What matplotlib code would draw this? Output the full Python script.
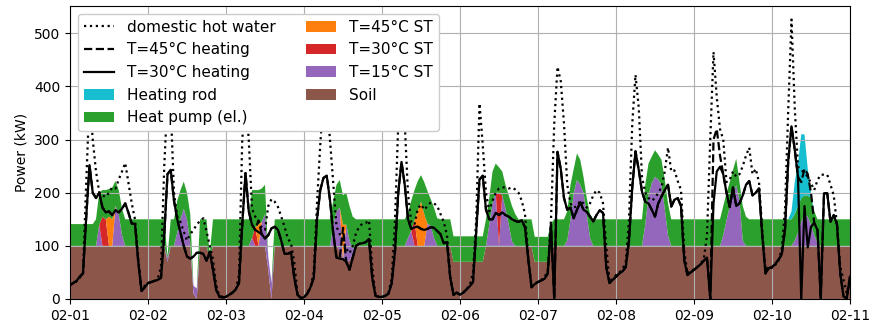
import matplotlib
matplotlib.use("Agg")
import matplotlib.pyplot as plt
import matplotlib.dates as mdates
import pandas as pd

# Hourly values, 2021-02-01 00:00 .. 2021-02-11 00:00 (241 points), in kW
soil = [
    100, 100, 100, 100, 100, 100, 100, 100, 100, 100, 100, 100, 100, 100, 100, 100, 100, 100, 100, 100, 100, 100, 100, 100,
    100, 100, 100, 100, 100, 100, 70, 100, 100, 100, 100, 100, 100, 100, 10, 0, 100, 100, 100, 78, 100, 100, 100, 100,
    100, 100, 100, 100, 100, 100, 100, 100, 100, 100, 100, 100, 100, 55, 0, 100, 100, 100, 100, 100, 100, 100, 100, 100,
    100, 100, 100, 100, 100, 100, 100, 100, 100, 100, 100, 90, 75, 70, 72, 85, 100, 100, 100, 100, 100, 100, 100, 100,
    100, 100, 100, 100, 100, 100, 100, 100, 100, 100, 100, 100, 100, 100, 100, 100, 100, 100, 100, 100, 100, 100, 70, 70,
    70, 70, 70, 70, 70, 70, 70, 70, 100, 100, 100, 100, 100, 100, 100, 100, 100, 100, 100, 100, 100, 100, 100, 70,
    70, 70, 70, 70, 100, 100, 100, 100, 100, 100, 100, 100, 100, 100, 100, 100, 100, 100, 100, 100, 100, 100, 100, 100,
    100, 100, 100, 100, 100, 100, 100, 100, 100, 100, 100, 100, 100, 100, 100, 100, 100, 100, 100, 100, 100, 100, 100, 100,
    100, 100, 100, 100, 100, 100, 100, 100, 100, 100, 100, 100, 100, 100, 100, 100, 100, 100, 100, 100, 100, 100, 100, 100,
    100, 100, 100, 100, 100, 100, 100, 100, 100, 100, 100, 100, 100, 100, 100, 100, 100, 100, 100, 100, 100, 100, 100, 100,
    100]

st15 = [
    0, 0, 0, 0, 0, 0, 0, 0, 0, 40, 0, 0, 0, 0, 75, 60, 20, 0, 0, 0, 0, 0, 0, 0,
    0, 0, 0, 0, 0, 0, 8, 0, 0, 25, 50, 70, 50, 5, 15, 20, 0, 0, 0, 0, 0, 0, 0, 0,
    0, 0, 0, 0, 0, 0, 0, 0, 15, 0, 0, 45, 60, 25, 30, 0, 0, 0, 0, 0, 0, 0, 0, 0,
    0, 0, 0, 0, 0, 0, 0, 0, 0, 40, 65, 82, 0, 70, 38, 10, 0, 0, 0, 0, 0, 0, 0, 0,
    0, 0, 0, 0, 0, 0, 0, 0, 15, 29, 0, 0, 0, 0, 42, 38, 15, 0, 0, 0, 0, 0, 0, 0,
    0, 0, 0, 0, 0, 0, 0, 0, 0, 40, 80, 100, 0, 95, 70, 40, 8, 0, 0, 0, 0, 0, 0, 0,
    0, 0, 0, 0, 0, 0, 0, 0, 0, 10, 50, 100, 124, 115, 100, 60, 15, 0, 0, 0, 0, 0, 0, 0,
    0, 0, 0, 0, 0, 0, 0, 0, 0, 40, 95, 118, 130, 125, 115, 70, 20, 0, 0, 0, 0, 0, 0, 0,
    0, 0, 0, 0, 0, 0, 0, 0, 0, 20, 48, 75, 100, 114, 86, 10, 0, 0, 0, 0, 0, 0, 0, 0,
    0, 0, 0, 0, 0, 0, 0, 10, 25, 45, 60, 55, 40, 20, 5, 0, 0, 0, 0, 0, 0, 0, 0, 0,
    0]

st30 = [
    0, 0, 0, 0, 0, 0, 0, 0, 0, 0, 55, 50, 0, 0, 0, 0, 0, 0, 0, 0, 0, 0, 0, 0,
    0, 0, 0, 0, 0, 0, 0, 0, 0, 0, 0, 0, 0, 0, 0, 0, 0, 0, 0, 0, 0, 0, 0, 0,
    0, 0, 0, 0, 0, 0, 0, 0, 0, 35, 0, 0, 0, 0, 0, 0, 0, 0, 0, 0, 0, 0, 0, 0,
    0, 0, 0, 0, 0, 0, 0, 0, 0, 0, 0, 0, 0, 0, 0, 0, 0, 0, 0, 0, 0, 0, 0, 0,
    0, 0, 0, 0, 0, 0, 0, 0, 0, 0, 48, 0, 0, 0, 0, 0, 0, 0, 0, 0, 0, 0, 0, 0,
    0, 0, 0, 0, 0, 0, 0, 0, 0, 0, 0, 0, 100, 0, 0, 0, 0, 0, 0, 0, 0, 0, 0, 0,
    0, 0, 0, 0, 0, 0, 0, 0, 0, 0, 0, 0, 0, 0, 0, 0, 0, 0, 0, 0, 0, 0, 0, 0,
    0, 0, 0, 0, 0, 0, 0, 0, 0, 0, 0, 0, 0, 0, 0, 0, 0, 0, 0, 0, 0, 0, 0, 0,
    0, 0, 0, 0, 0, 0, 0, 0, 0, 0, 0, 0, 0, 0, 0, 0, 0, 0, 0, 0, 0, 0, 0, 0,
    0, 0, 0, 0, 0, 0, 0, 0, 0, 0, 0, 0, 0, 0, 0, 0, 0, 0, 0, 0, 0, 0, 0, 0,
    0]

st45 = [
    0, 0, 0, 0, 0, 0, 0, 0, 0, 0, 0, 0, 55, 50, 0, 0, 0, 0, 0, 0, 0, 0, 0, 0,
    0, 0, 0, 0, 0, 0, 0, 0, 0, 0, 0, 0, 0, 0, 0, 0, 0, 0, 0, 0, 0, 0, 0, 0,
    0, 0, 0, 0, 0, 0, 0, 0, 0, 0, 40, 0, 0, 0, 0, 0, 0, 0, 0, 0, 0, 0, 0, 0,
    0, 0, 0, 0, 0, 0, 0, 0, 0, 0, 0, 0, 65, 0, 0, 0, 0, 0, 0, 0, 0, 0, 0, 0,
    0, 0, 0, 0, 0, 0, 0, 0, 0, 0, 0, 65, 83, 60, 0, 0, 0, 0, 0, 0, 0, 0, 0, 0,
    0, 0, 0, 0, 0, 0, 0, 0, 0, 0, 0, 0, 0, 0, 0, 0, 0, 0, 0, 0, 0, 0, 0, 0,
    0, 0, 0, 0, 0, 0, 0, 0, 0, 0, 0, 0, 0, 0, 0, 0, 0, 0, 0, 0, 0, 0, 0, 0,
    0, 0, 0, 0, 0, 0, 0, 0, 0, 0, 0, 0, 0, 0, 0, 0, 0, 0, 0, 0, 0, 0, 0, 0,
    0, 0, 0, 0, 0, 0, 0, 0, 0, 0, 0, 0, 0, 0, 0, 0, 0, 0, 0, 0, 0, 0, 0, 0,
    0, 0, 0, 0, 0, 0, 0, 0, 0, 0, 0, 0, 0, 0, 0, 0, 0, 0, 0, 0, 0, 0, 0, 0,
    0]

heat_pump = [
    41, 41, 41, 41, 41, 41, 41, 41, 50, 60, 50, 55, 52, 60, 47, 45, 50, 50, 50, 50, 50, 50, 50, 50,
    50, 50, 50, 50, 50, 50, 2, 50, 50, 60, 55, 51, 50, 55, 0, 0, 50, 50, 50, 7, 50, 50, 50, 50,
    50, 50, 50, 50, 50, 50, 50, 50, 90, 70, 65, 63, 55, 0, 0, 50, 50, 50, 50, 50, 50, 50, 50, 50,
    50, 50, 50, 50, 50, 50, 50, 50, 50, 45, 50, 52, 55, 60, 65, 60, 50, 50, 50, 50, 50, 50, 50, 50,
    50, 50, 50, 50, 50, 50, 50, 50, 47, 56, 57, 57, 50, 60, 61, 50, 57, 52, 50, 50, 50, 50, 48, 48,
    48, 48, 48, 48, 48, 48, 48, 48, 50, 50, 60, 55, 48, 45, 45, 55, 67, 60, 50, 50, 50, 50, 50, 47,
    47, 47, 47, 47, 42, 50, 50, 50, 50, 55, 65, 45, 50, 47, 30, 30, 45, 50, 50, 50, 50, 50, 50, 50,
    50, 50, 50, 50, 50, 50, 50, 50, 50, 75, 60, 50, 50, 47, 47, 55, 60, 50, 50, 50, 50, 50, 50, 50,
    50, 50, 50, 50, 50, 50, 50, 50, 50, 55, 51, 45, 43, 50, 34, 65, 55, 50, 50, 50, 50, 50, 50, 50,
    50, 50, 50, 50, 50, 50, 50, 50, 50, 45, 35, 40, 50, 45, 45, 50, 50, 50, 50, 50, 50, 50, 50, 50,
    50]

heating_rod = [
    0, 0, 0, 0, 0, 0, 0, 0, 0, 0, 0, 0, 0, 0, 0, 0, 0, 0, 0, 0, 0, 0, 0, 0,
    0, 0, 0, 0, 0, 0, 0, 0, 0, 0, 0, 0, 0, 0, 0, 0, 0, 0, 0, 0, 0, 0, 0, 0,
    0, 0, 0, 0, 0, 0, 0, 0, 0, 0, 0, 0, 0, 0, 0, 0, 0, 0, 0, 0, 0, 0, 0, 0,
    0, 0, 0, 0, 0, 0, 0, 0, 0, 0, 0, 0, 0, 0, 0, 0, 0, 0, 0, 0, 0, 0, 0, 0,
    0, 0, 0, 0, 0, 0, 0, 0, 0, 0, 0, 0, 0, 0, 0, 0, 0, 0, 0, 0, 0, 0, 0, 0,
    0, 0, 0, 0, 0, 0, 0, 0, 0, 0, 0, 0, 0, 0, 0, 0, 0, 0, 0, 0, 0, 0, 0, 0,
    0, 0, 0, 0, 0, 0, 0, 0, 0, 0, 0, 0, 0, 0, 0, 0, 0, 0, 0, 0, 0, 0, 0, 0,
    0, 0, 0, 0, 0, 0, 0, 0, 0, 0, 0, 0, 0, 0, 0, 0, 0, 0, 0, 0, 0, 0, 0, 0,
    0, 0, 0, 0, 0, 0, 0, 0, 0, 0, 0, 0, 0, 0, 0, 0, 0, 0, 0, 0, 0, 0, 0, 0,
    0, 0, 0, 0, 0, 0, 15, 60, 80, 120, 115, 50, 10, 0, 0, 0, 0, 0, 0, 0, 0, 0, 0, 0,
    0]

hot_water = [
    27, 30, 33, 40, 50, 220, 380, 300, 240, 201, 195, 192, 200, 210, 208, 225, 240, 256, 218, 180, 150, 75, 18, 25,
    30, 32, 34, 38, 60, 250, 380, 360, 200, 155, 145, 127, 110, 122, 130, 140, 147, 152, 128, 100, 75, 25, 5, 5,
    5, 8, 12, 18, 45, 300, 380, 300, 170, 155, 145, 135, 130, 175, 188, 183, 173, 155, 136, 114, 105, 70, 10, 3,
    4, 10, 22, 50, 180, 290, 380, 380, 300, 218, 136, 122, 112, 95, 86, 100, 124, 136, 142, 143, 148, 60, 6, 4,
    4, 6, 12, 40, 148, 330, 400, 330, 198, 145, 140, 170, 178, 168, 175, 182, 180, 175, 160, 145, 120, 40, 8, 12,
    8, 12, 18, 26, 50, 150, 368, 290, 200, 165, 185, 200, 208, 210, 210, 208, 210, 206, 200, 185, 160, 80, 25, 30,
    32, 36, 40, 55, 150, 330, 437, 410, 330, 215, 180, 172, 175, 185, 180, 172, 180, 195, 205, 200, 180, 100, 32, 38,
    45, 50, 56, 70, 150, 330, 422, 360, 230, 200, 190, 185, 190, 200, 210, 240, 285, 240, 242, 222, 205, 90, 48, 54,
    55, 60, 66, 75, 120, 300, 465, 380, 320, 300, 220, 225, 240, 230, 235, 250, 270, 285, 235, 245, 220, 130, 55, 62,
    58, 64, 72, 95, 168, 356, 526, 360, 249, 243, 237, 230, 218, 205, 224, 234, 234, 234, 215, 195, 140, 61, 36, 11,
    40]

heating_45 = [
    26, 30, 34, 42, 48, 155, 252, 200, 190, 200, 172, 163, 165, 158, 167, 163, 170, 180, 162, 142, 141, 70, 15, 22,
    30, 32, 34, 36, 40, 120, 235, 243, 185, 150, 125, 100, 80, 76, 80, 87, 87, 85, 72, 89, 55, 17, 4, 3,
    4, 8, 12, 18, 30, 140, 237, 165, 140, 130, 148, 122, 114, 120, 133, 136, 130, 110, 85, 85, 88, 40, 8, 2,
    3, 10, 22, 40, 150, 205, 228, 232, 186, 124, 78, 76, 134, 70, 55, 78, 100, 104, 105, 107, 113, 40, 6, 4,
    4, 6, 10, 30, 90, 200, 258, 215, 150, 132, 135, 136, 132, 130, 132, 135, 134, 128, 122, 105, 107, 40, 8, 12,
    8, 12, 18, 24, 32, 130, 225, 232, 168, 150, 150, 162, 158, 163, 158, 155, 150, 147, 145, 148, 135, 75, 22, 28,
    32, 35, 38, 48, 140, 0, 277, 245, 190, 168, 172, 152, 168, 182, 168, 164, 155, 146, 158, 167, 162, 60, 30, 36,
    42, 48, 52, 60, 110, 210, 278, 243, 202, 183, 180, 168, 155, 180, 193, 205, 215, 174, 187, 190, 175, 73, 45, 50,
    55, 60, 65, 72, 78, 0, 300, 320, 270, 235, 200, 173, 210, 175, 180, 195, 215, 222, 195, 200, 208, 120, 48, 58,
    60, 66, 74, 84, 130, 260, 325, 281, 230, 220, 245, 235, 200, 143, 130, 0, 199, 199, 145, 158, 140, 48, 5, 1,
    42]

heating_30 = [
    26, 30, 34, 42, 48, 155, 252, 200, 190, 200, 172, 163, 165, 158, 167, 163, 170, 180, 162, 142, 141, 70, 15, 22,
    30, 32, 34, 36, 40, 120, 235, 243, 185, 150, 125, 100, 80, 76, 80, 87, 87, 85, 72, 89, 55, 17, 4, 3,
    4, 8, 12, 18, 30, 140, 237, 165, 140, 130, 126, 122, 114, 120, 133, 136, 130, 110, 85, 85, 88, 40, 8, 2,
    3, 10, 22, 40, 150, 205, 228, 232, 186, 124, 78, 76, 75, 70, 55, 78, 100, 104, 105, 107, 113, 40, 6, 4,
    4, 6, 10, 30, 90, 200, 258, 215, 150, 132, 135, 136, 132, 130, 132, 135, 134, 128, 122, 105, 107, 40, 8, 12,
    8, 12, 18, 24, 32, 130, 225, 232, 168, 150, 150, 162, 158, 163, 158, 155, 150, 147, 145, 148, 135, 75, 22, 28,
    32, 35, 38, 48, 140, 0, 277, 245, 190, 168, 172, 152, 168, 182, 168, 164, 155, 146, 158, 167, 162, 60, 30, 36,
    42, 48, 52, 60, 110, 210, 278, 243, 202, 183, 180, 168, 155, 180, 193, 205, 215, 174, 187, 190, 175, 73, 45, 50,
    55, 60, 65, 72, 78, 0, 180, 240, 249, 235, 200, 173, 210, 175, 180, 195, 215, 222, 195, 200, 208, 120, 48, 58,
    60, 66, 74, 84, 130, 260, 325, 281, 230, 0, 175, 97, 136, 143, 130, 0, 199, 199, 145, 158, 140, 48, 5, 1,
    42]

times = pd.date_range("2021-02-01 00:00", periods=len(soil), freq="h")

fig = plt.figure(figsize=(8.74, 3.32), dpi=100)
ax = fig.add_axes([70 / 874, 33 / 332, 780 / 874, 293 / 332])

layers = ax.stackplot(
    times, soil, st15, st30, st45, heat_pump, heating_rod,
    colors=["tab:brown", "tab:purple", "tab:red", "tab:orange", "tab:green", "tab:cyan"],
    labels=["Soil", "T=15°C ST", "T=30°C ST", "T=45°C ST", "Heat pump (el.)", "Heating rod"],
)

l_dhw, = ax.plot(times, hot_water, ":", color="black", lw=1.6, label="domestic hot water")
l_45, = ax.plot(times, heating_45, "--", color="black", lw=1.6, label="T=45°C heating")
l_30, = ax.plot(times, heating_30, "-", color="black", lw=1.6, label="T=30°C heating")

handles = [l_dhw, l_45, l_30] + layers[::-1]
ax.legend(handles=handles, loc="upper left", ncol=2, fontsize=11, framealpha=1.0)

ax.grid(True)
ax.set_xlim(times[0], times[-1])
ax.set_ylim(0, 551.5)
ax.set_ylabel("Power (kW)", fontsize=10)
ax.xaxis.set_major_locator(mdates.DayLocator())
ax.xaxis.set_major_formatter(mdates.DateFormatter("%m-%d"))
ax.tick_params(labelsize=10)

fig.savefig("out.png", dpi=100)
